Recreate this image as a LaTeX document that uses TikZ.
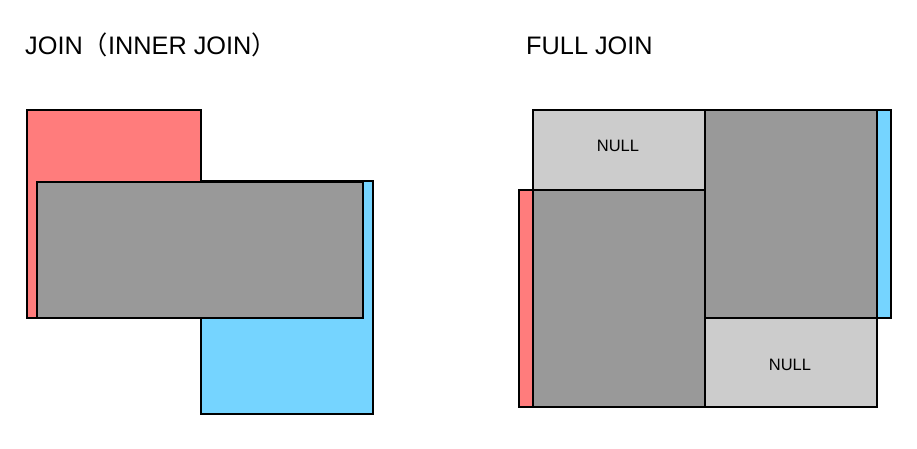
\documentclass[tikz,border=0pt]{standalone}
\usepackage{fontspec}
\setmainfont{Liberation Sans}
\newfontfamily\cjk{Noto Sans CJK SC}
\definecolor{tred}{HTML}{FF7C7C}
\definecolor{tblue}{HTML}{75D4FF}
\definecolor{tgray}{HTML}{999999}
\definecolor{tlight}{HTML}{CCCCCC}
\begin{document}
\begin{tikzpicture}[x=1pt,y=-1pt,
  box/.style={draw=black,line width=1.3pt},
  title/.style={anchor=base west,inner sep=0pt,font=\fontsize{25.3}{28}\selectfont},
  nulltext/.style={anchor=base,inner sep=0pt,font=\fontsize{16.5}{18}\selectfont}]
\useasboundingbox (0,0) rectangle (917,449);
% titles
\node[title] (t1) at (25,55) {JOIN{\cjk （}INNER JOIN{\cjk ）}};
\node[title] (t2) at (526,55) {FULL JOIN};
% left: inner join
\draw[box,fill=tred] (27,110) rectangle (201,318);
\draw[box,fill=tblue] (201,181) rectangle (373,414);
\draw[box,fill=tgray] (37,182) rectangle (363,318);
% right: full join
\draw[box,fill=tred] (519,190) rectangle (533,407);
\draw[box,fill=tblue] (877,110) rectangle (891,318);
\draw[box,fill=tlight] (533,110) rectangle (705,190);
\draw[box,fill=tgray] (533,190) rectangle (705,407);
\draw[box,fill=tgray] (705,110) rectangle (877,318);
\draw[box,fill=tlight] (705,318) rectangle (877,407);
\node[nulltext] (n1) at (618,152) {NULL};
\node[nulltext] (n2) at (790,370) {NULL};
\end{tikzpicture}
\end{document}
